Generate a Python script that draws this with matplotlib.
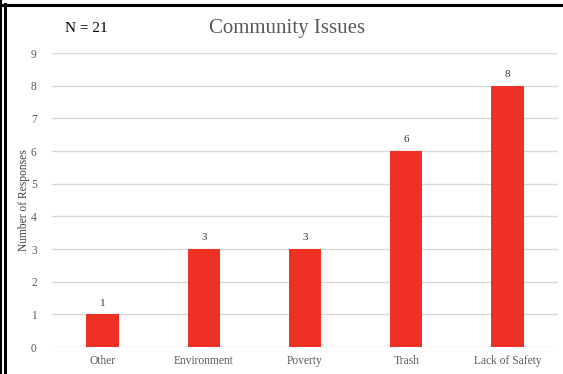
import matplotlib.pyplot as plt
from matplotlib.lines import Line2D

categories = ['Other', 'Environment', 'Poverty', 'Trash', 'Lack of Safety']
responses = [1, 3, 3, 6, 8]
yticks = list(range(0, 10))

plt.rcParams['font.family'] = ['Liberation Serif', 'DejaVu Serif']

fig = plt.figure(figsize=(5.63, 3.74), dpi=100)
ax = fig.add_axes([52 / 563, 1 - 347 / 374, 506 / 563, 294 / 374])

bars = ax.bar(categories, responses, width=0.32, color='#EE3124', zorder=3)
for b, v in zip(bars, responses):
    ax.text(b.get_x() + b.get_width() / 2, v + 0.2, str(v), ha='center', va='bottom',
            fontsize=8, color='#333333')

ax.set_xlim(-0.5, len(categories) - 0.5)
ax.set_ylim(0, 9)
ax.set_yticks(yticks)
ax.grid(axis='y', color='#d9d9d9', linewidth=1, zorder=0)
for s in ax.spines.values():
    s.set_visible(False)
ax.tick_params(length=0, labelsize=8.3, labelcolor='#595959')
ax.tick_params(axis='y', pad=11)
ax.tick_params(axis='x', pad=6)
ax.set_ylabel('Number of Responses', fontsize=8.3, color='#404040')
ax.yaxis.set_label_coords(-0.044, 0.5)

fig.text(287 / 563, 1 - 29 / 374, 'Community Issues', ha='center', va='center',
         fontsize=15, color='#595959')
fig.text(65 / 563, 1 - 29 / 374, 'N = 21', ha='left', va='center',
         fontsize=11, color='black')

# black frame on the top and left edges
fig.add_artist(Line2D([0, 1], [1 - 5 / 374, 1 - 5 / 374], color='black', linewidth=2.2,
                      transform=fig.transFigure))
fig.add_artist(Line2D([1 / 563, 1 / 563], [0, 1], color='black', linewidth=1.5,
                      transform=fig.transFigure))
fig.add_artist(Line2D([5 / 563, 5 / 563], [0, 1 - 4 / 374], color='black', linewidth=2.2,
                      transform=fig.transFigure))

fig.savefig('out.png', dpi=100)
